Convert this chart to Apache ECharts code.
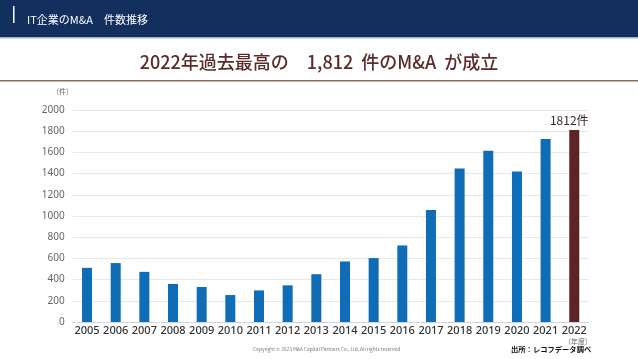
<!DOCTYPE html>
<html><head><meta charset="utf-8">
<script src="https://cdn.jsdelivr.net/npm/echarts@6/dist/echarts.min.js"></script>
<style>html,body{margin:0;padding:0;background:#fff}#c{width:638px;height:359px}</style>
</head><body><div id="c"></div>
<script>
var years = ['2005','2006','2007','2008','2009','2010','2011','2012','2013','2014','2015','2016','2017','2018','2019','2020','2021','2022'];
var counts = [511, 556, 473, 359, 330, 254, 298, 346, 451, 571, 603, 722, 1057, 1448, 1616, 1419, 1727, 1812];
var yTicks = [0, 200, 400, 600, 800, 1000, 1200, 1400, 1600, 1800, 2000];

var FONT = '"Noto Sans CJK JP", "Noto Sans", sans-serif';
var chart = echarts.init(document.getElementById('c'));
var data = counts.map(function(v, i){
  var last = i === counts.length - 1;
  return {
    value: v,
    itemStyle: {color: last ? '#5e2424' : '#0f6db8'},
    label: last ? {show: true, position: 'top', formatter: '{c}件', color: '#3b2b2b', fontSize: 12, fontFamily: FONT, distance: 3, offset: [-5, 0]} : {show: false}
  };
});
chart.setOption({
  animation: false,
  textStyle: {fontFamily: FONT},
  grid: {left: 72.7, right: 49.4, top: 110, bottom: 37},
  xAxis: {
    type: 'category', data: years,
    axisLine: {show: true, lineStyle: {color: '#cfd6df'}},
    axisTick: {show: false},
    axisLabel: {interval: 0, color: '#333', fontSize: 11, fontWeight: 500, margin: 3, fontFamily: '"Noto Sans", sans-serif'}
  },
  yAxis: {
    type: 'value', min: 0, max: 2000, interval: 200,
    axisLine: {show: false}, axisTick: {show: false},
    axisLabel: {color: '#666', fontSize: 10, margin: 8, fontFamily: '"Noto Sans", sans-serif',
      formatter: function(v){ return yTicks.indexOf(v) >= 0 ? String(v) : ''; }},
    splitLine: {lineStyle: {color: '#e8e8e8'}}
  },
  series: [{type: 'bar', data: data, barWidth: 10}],
  graphic: [
    {type: 'rect', shape: {x: 0, y: 0, width: 638, height: 37}, style: {fill: '#132f5e'}, silent: true},
    {type: 'rect', shape: {x: 0, y: 37, width: 638, height: 1.5}, style: {fill: '#9fb3cc'}, silent: true},
    {type: 'rect', shape: {x: 13, y: 6, width: 1.5, height: 17}, style: {fill: '#ffffff'}, silent: true},
    {type: 'text', left: 27, top: 14, style: {text: 'IT企業のM&A　件数推移', fill: '#ffffff', font: '11px ' + FONT}},
    {type: 'text', left: 'center', top: 53, style: {text: '2022年過去最高の　1,812  件のM&A  が成立', fill: '#5a2b2b', font: '500 18px ' + FONT}},
    {type: 'rect', shape: {x: 0, y: 80, width: 638, height: 1.5}, style: {fill: '#8b6a60'}, silent: true},
    {type: 'text', left: 52, top: 88, style: {text: '（件）', fill: '#666', font: '7px ' + FONT}},
    {type: 'text', left: 564, top: 338, style: {text: '（年度）', fill: '#666', font: '7px ' + FONT}},
    {type: 'text', left: 253, top: 347, style: {text: 'Copyright © 2023 M&A Capital Partners Co., Ltd. All rights reserved', fill: '#777', font: '4.8px ' + FONT}},
    {type: 'text', left: 511, top: 346, style: {text: '出所：レコフデータ調べ', fill: '#111', font: 'bold 7.3px ' + FONT}}
  ]
});
</script></body></html>
